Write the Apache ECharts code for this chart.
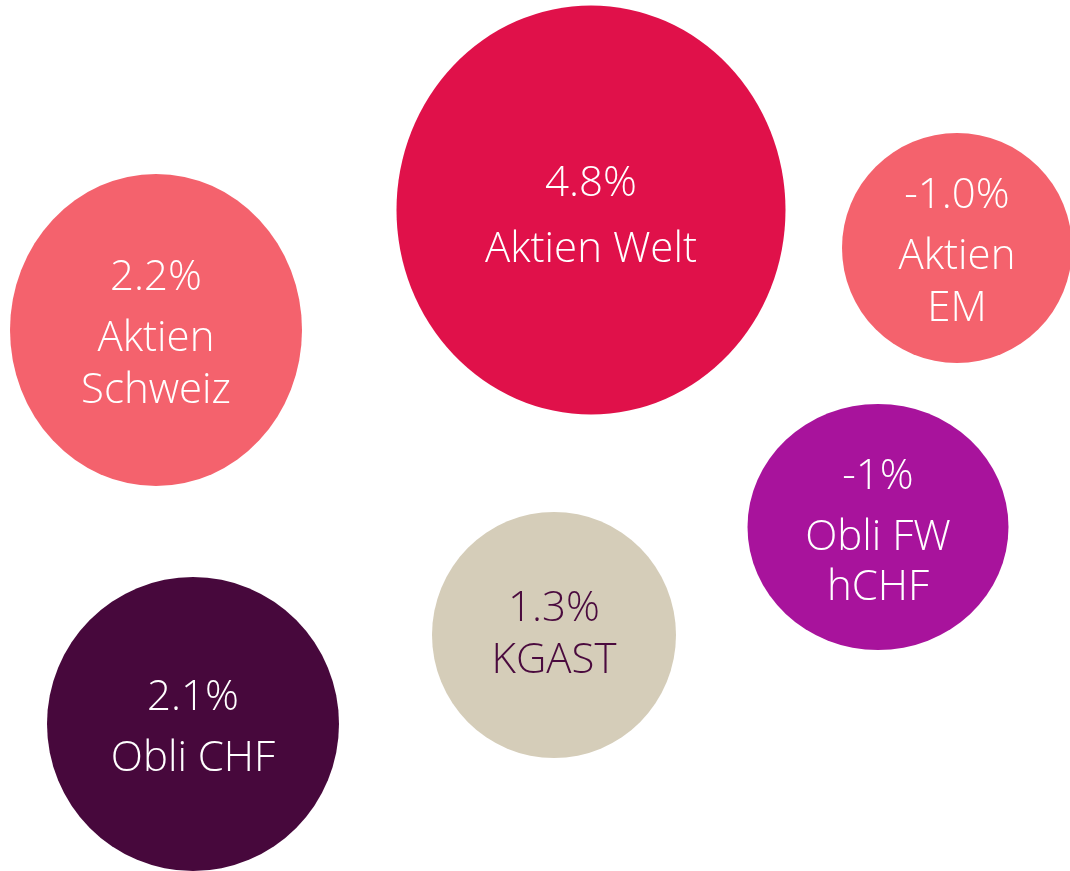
<!DOCTYPE html>
<html>
<head>
<meta charset="utf-8">
<script src="https://cdn.jsdelivr.net/npm/echarts@6/dist/echarts.min.js"></script>
<style>
html,body{margin:0;padding:0;background:#fff;}
#chart{width:1070px;height:871px;}
</style>
</head>
<body>
<div id="chart"></div>
<script>
// ---- data ----
const categories = ['Aktien Welt', 'Aktien Schweiz', 'Aktien EM', 'Obli FW hCHF', 'KGAST', 'Obli CHF'];
const nameLines = ['Aktien Welt', 'Aktien\nSchweiz', 'Aktien\nEM', 'Obli FW\nhCHF', 'KGAST', 'Obli CHF'];
const returnLabels = ['4.8%', '2.2%', '-1.0%', '-1%', '1.3%', '2.1%'];
const posX = [591, 156, 957, 878, 554, 193];
const posY = [210, 330, 248, 527, 635, 724];
const bubbleW = [389, 292, 230, 261, 244, 292];
const bubbleH = [409, 312, 230, 246, 246, 294];

// ---- styles ----
const fillColors = ['#E0114A', '#F4626D', '#F4626D', '#A8139C', '#D5CDB9', '#47083C'];
const textColors = ['#FFFFFF', '#FFFFFF', '#FFFFFF', '#FFFFFF', '#4A0A3E', '#FFFFFF'];
const valueLineH = [80, 70, 70, 72, 52, 70];
const nameLineH = [52, 52, 52, 50, 52, 52];

const FONT = '"Open Sans", "Noto Sans", sans-serif';

const data = categories.map((c, i) => ({
  name: c,
  value: [posX[i], posY[i]],
  itemStyle: { color: fillColors[i], opacity: 1 },
  label: {
    show: true,
    position: 'inside',
    formatter: '{v|' + returnLabels[i] + '}\n' + nameLines[i].split('\n').map(s => '{n|' + s + '}').join('\n'),
    rich: {
      v: { fontFamily: FONT, fontWeight: 300, fontSize: 42, color: textColors[i], lineHeight: valueLineH[i], align: 'center' },
      n: { fontFamily: FONT, fontWeight: 300, fontSize: 42, color: textColors[i], lineHeight: nameLineH[i], align: 'center' }
    }
  }
}));

const chart = echarts.init(document.getElementById('chart'), null, { renderer: 'canvas' });
chart.setOption({
  animation: false,
  backgroundColor: '#ffffff',
  grid: { left: 0, right: 0, top: 0, bottom: 0 },
  xAxis: { type: 'value', min: 0, max: 1070, show: false },
  yAxis: { type: 'value', min: 0, max: 871, inverse: true, show: false },
  series: [{
    type: 'scatter',
    symbol: 'circle',
    symbolSize: (val, p) => [bubbleW[p.dataIndex], bubbleH[p.dataIndex]],
    itemStyle: { opacity: 1 },
    clip: true,
    emphasis: { disabled: true },
    data: data
  }]
});
</script>
</body>
</html>
